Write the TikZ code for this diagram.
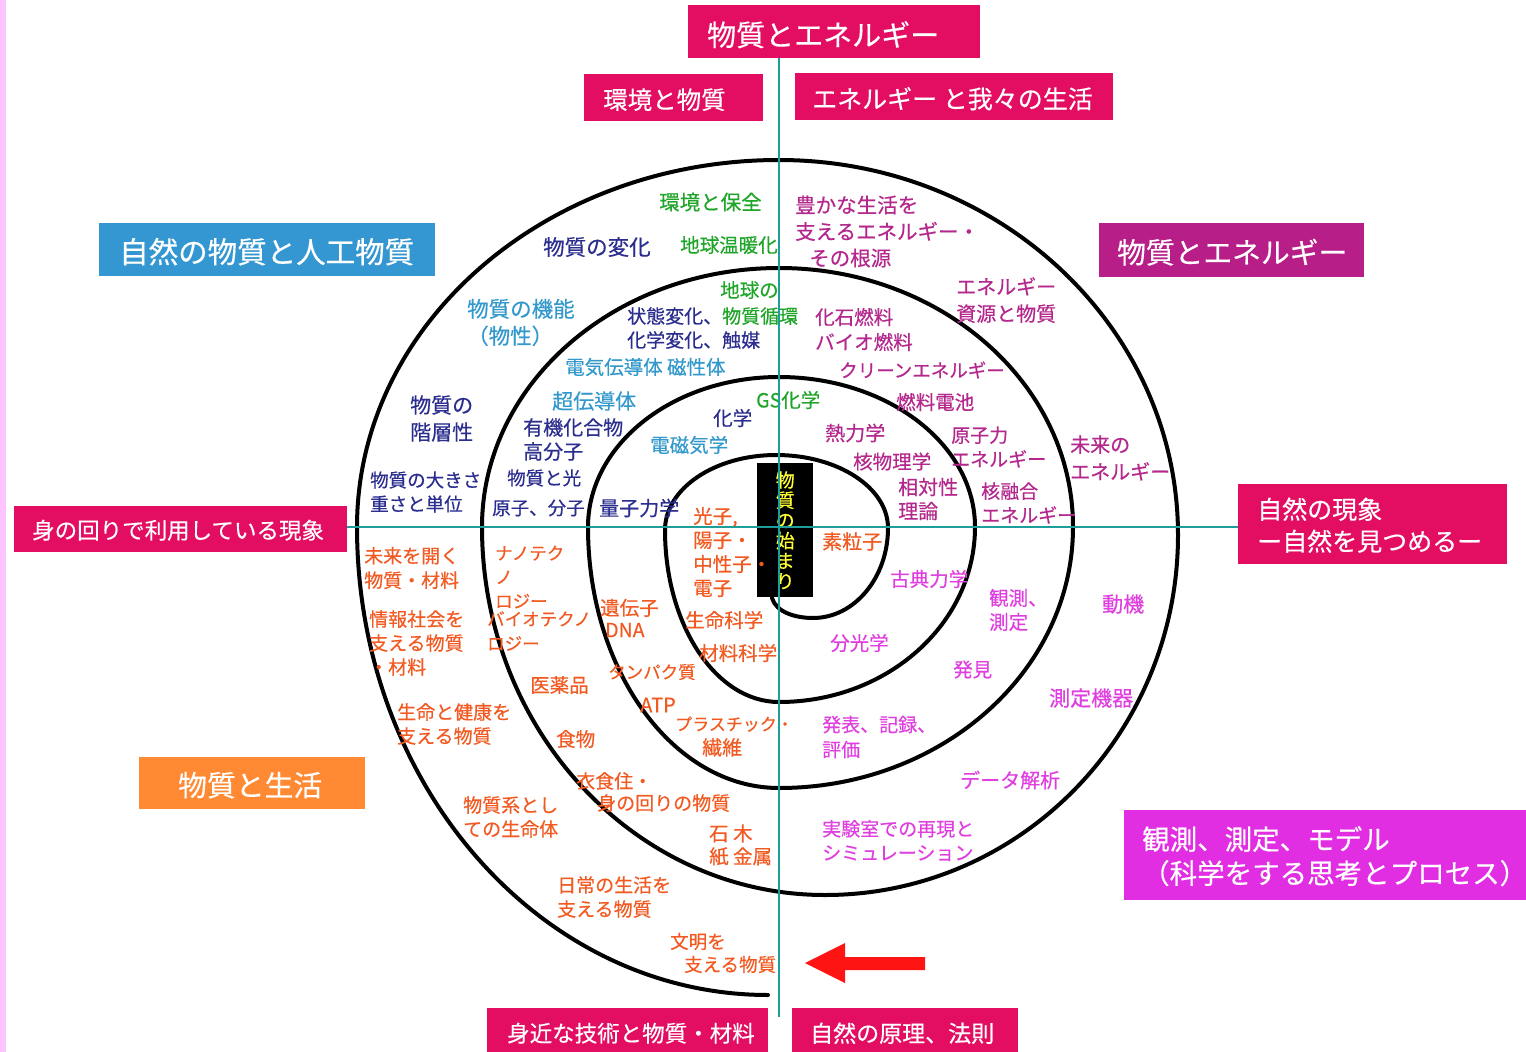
\documentclass[tikz,border=0pt]{standalone}
\usepackage{fontspec}
\setmainfont{Noto Sans CJK JP}[FakeBold=0.4]
\definecolor{boxred}{HTML}{E30D62}
\definecolor{boxblue}{HTML}{3497D1}
\definecolor{boxpurple}{HTML}{B81E87}
\definecolor{boxorange}{HTML}{FF8A33}
\definecolor{boxmag}{HTML}{E22EE2}
\definecolor{navyc}{HTML}{2B2E8F}
\definecolor{lbluec}{HTML}{3399CC}
\definecolor{greenc}{HTML}{1FA528}
\definecolor{purplec}{HTML}{B4278C}
\definecolor{orangec}{HTML}{F25A22}
\definecolor{magc}{HTML}{E03FE0}
\definecolor{tealc}{HTML}{1E9E9A}
\definecolor{stripc}{HTML}{FFC4FF}
\definecolor{arrowc}{HTML}{FF1414}
\definecolor{yel}{HTML}{FFFF33}
\begin{document}
\begin{tikzpicture}[x=1pt,y=-1pt,
  fs/.style 2 args={font=\fontsize{#1}{#2}\selectfont},
  bx/.style={rectangle, inner sep=0pt, draw=none, anchor=north west},
  bt/.style={inner sep=0pt, anchor=west, text=white, align=left},
  lb/.style={inner sep=0pt, anchor=west, align=left, fs={19.5}{24}},
  nv/.style={lb, text=navyc},
  lbc/.style={lb, text=lbluec},
  gc/.style={lb, text=greenc},
  pc/.style={lb, text=purplec},
  oc/.style={lb, text=orangec},
  mc/.style={lb, text=magc},
  axis/.style={tealc, line width=2pt},
  spiral/.style={line width=4pt, line cap=round, draw=black}
]
\useasboundingbox (0,0) rectangle (1526,1052);
\fill[white] (0,0) rectangle (1526,1052);
\fill[stripc] (0,0) rectangle (6,1052);

% spiral
\draw[spiral] (772,598) .. controls (776,612) and (795,618) .. (813,618)
 .. controls (854.4,618) and (888,577.7) .. (888,528)
 .. controls (888,487.7) and (837.9,455) .. (776,455)
 .. controls (714.7,455) and (665,488.6) .. (665,530)
 .. controls (665,625) and (716,702) .. (779,702)
 .. controls (887.3,702) and (975,623.7) .. (975,527)
 .. controls (975,444.2) and (887.3,377) .. (779,377)
 .. controls (673.5,377) and (588,444.2) .. (588,527)
 .. controls (588,671.2) and (673.5,788) .. (779,788)
 .. controls (941.4,788) and (1073,671.2) .. (1073,527)
 .. controls (1073,384) and (941.4,268) .. (779,268)
 .. controls (615,268) and (482,384) .. (482,527)
 .. controls (482,730.2) and (635.6,895) .. (825,895)
 .. controls (1020,895) and (1178,733.8) .. (1178,535)
 .. controls (1178,327.9) and (999.4,160) .. (779,160)
 .. controls (545.9,160) and (357,324.3) .. (357,527)
 .. controls (357,785.5) and (541,995) .. (768,995);

% boxes
\node[bx, fill=boxred, minimum width=292pt, minimum height=53pt] (b1) at (688,5) {};
\node[bt, fs={29}{34}] (b1t) at ([xshift=19pt,yshift=-3pt]b1.west) {物質とエネルギー};
\node[bx, fill=boxred, minimum width=179pt, minimum height=47pt] (b2) at (584,74) {};
\node[bt, fs={24.5}{30}] (b2t) at ([xshift=19pt,yshift=-2pt]b2.west) {環境と物質};
\node[bx, fill=boxred, minimum width=318pt, minimum height=47pt] (b3) at (795,73) {};
\node[bt, fs={25}{30}] (b3t) at ([xshift=17pt,yshift=-2pt]b3.west) {エネルギー と我々の生活};
\node[bx, fill=boxblue, minimum width=336pt, minimum height=53pt] (b4) at (99,223) {};
\node[bt, fs={29.5}{34}] (b4t) at ([xshift=20pt,yshift=-2pt]b4.west) {自然の物質と人工物質};
\node[bx, fill=boxpurple, minimum width=265pt, minimum height=54pt] (b5) at (1099,223) {};
\node[bt, fs={28.75}{34}] (b5t) at ([xshift=18pt,yshift=-2pt]b5.west) {物質とエネルギー};
\node[bx, fill=boxred, minimum width=333pt, minimum height=46pt] (b6) at (14,506) {};
\node[bt, fs={22.5}{28}] (b6t) at ([xshift=18pt,yshift=-1pt]b6.west) {身の回りで利用している現象};
\node[bx, fill=boxred, minimum width=269pt, minimum height=80pt] (b7) at (1238,484) {};
\node[bt, fs={25}{32}] (b7t) at ([xshift=19pt,yshift=-1pt]b7.west) {自然の現象\\ー自然を見つめるー};
\node[bx, fill=boxorange, minimum width=226pt, minimum height=52pt] (b8) at (139,757) {};
\node[bt, fs={28.8}{34}] (b8t) at ([xshift=39pt,yshift=-2pt]b8.west) {物質と生活};
\node[bx, fill=boxmag, minimum width=402pt, minimum height=90pt] (b9) at (1124,810) {};
\node[bt, fs={27.5}{34}] (b9t) at ([xshift=18pt,yshift=-1pt]b9.west) {観測、測定、モデル\\（科学をする思考とプロセス）};
\node[bx, fill=boxred, minimum width=281pt, minimum height=44pt] (b10) at (487,1008) {};
\node[bt, fs={22.5}{28}] (b10t) at ([xshift=20pt,yshift=-3pt]b10.west) {身近な技術と物質・材料};
\node[bx, fill=boxred, minimum width=226pt, minimum height=44pt] (b11) at (792,1008) {};
\node[bt, fs={23}{28}] (b11t) at ([xshift=18pt,yshift=-3pt]b11.west) {自然の原理、法則};

% navy labels
\node[nv, fs={21.5}{26}] (n1) at (543,247) {物質の変化};
\node[nv, fs={19}{24}] (n2) at (627,328) {状態変化、\textcolor{greenc}{物質循環}\\化学変化、触媒};
\node[nv, fs={21}{27}] (n3) at (410,418.5) {物質の\\階層性};
\node[nv, fs={20}{24}] (n4) at (523,439.5) {有機化合物\\高分子};
\node[nv] (n5) at (713,418) {化学};
\node[nv, fs={18.5}{24}] (n6) at (370,492) {物質の大きさ\\重さと単位};
\node[nv, fs={18.5}{24}] (n7) at (507,478) {物質と光};
\node[nv, fs={18.5}{24}] (n8) at (492,508) {原子、分子};
\node[nv, fs={20}{24}] (n9) at (599,508) {量子力学};

% light blue labels
\node[lbc, fs={21.5}{27}] (l1) at (467,322.5) {物質の機能\\（物性）};
\node[lbc] (l2) at (565,367) {電気伝導体 磁性体};
\node[lbc, fs={21}{24}] (l3) at (552,401) {超伝導体};
\node[lbc] (l4) at (650,445) {電磁気学};

% green labels
\node[gc, fs={20.5}{24}] (g1) at (659,202) {環境と保全};
\node[gc] (g2) at (680,245) {地球温暖化};
\node[gc] (g3) at (720,290) {地球の};
\node[gc] (g4) at (756,400) {GS化学};

% purple labels
\node[pc, fs={20.5}{26.5}] (p1) at (795,231.5) {豊かな生活を\\支えるエネルギー・\\\hspace*{14pt}その根源};
\node[pc, fs={20}{27}] (p2) at (956,300) {エネルギー\\資源と物質};
\node[pc, fs={19.5}{25}] (p3) at (815,329.5) {化石燃料\\バイオ燃料};
\node[pc, fs={18.5}{24}] (p4) at (839,370) {クリーンエネルギー};
\node[pc] (p5) at (896,402) {燃料電池};
\node[pc, fs={20}{24}] (p6) at (825,433) {熱力学};
\node[pc] (p7) at (853,461.5) {核物理学};
\node[pc, fs={20}{24}] (p8) at (898,499) {相対性\\理論};
\node[pc, fs={19}{24}] (p9) at (951,447) {原子力\\エネルギー};
\node[pc, fs={19}{24}] (p10) at (981,503) {核融合\\エネルギー};
\node[pc, fs={20}{27}] (p11) at (1070,458) {未来の\\エネルギー};

% orange labels
\node[oc, fs={20}{24}] (o1) at (822,541.5) {素粒子};
\node[oc, fs={19}{24.5}] (o2) at (364,568) {未来を開く\\物質・材料};
\node[oc, fs={17.5}{24}] (o3) at (495,577) {ナノテク\\ノ\\ロジー};
\node[oc, fs={17.5}{24.5}] (o4) at (487,631) {バイオテクノ\\ロジー};
\node[oc, fs={19}{24}] (o5) at (369,643) {情報社会を\\支える物質\\・材料};
\node[oc, fs={19.5}{22}] (o6) at (600,618) {遺伝子\\\hspace*{5pt}DNA};
\node[oc] (o7) at (685,620) {生命科学};
\node[oc] (o8) at (699,653) {材料科学};
\node[oc, fs={17.5}{24}] (o9) at (608,672) {タンパク質};
\node[oc] (o10) at (530,685) {医薬品};
\node[oc, fs={20}{24}] (o11) at (640,705) {ATP};
\node[oc, fs={19}{24}] (o12) at (397,724) {生命と健康を\\支える物質};
\node[oc, fs={17}{24.5}] (o13) at (675,736.5) {プラスチック・\\\hspace*{27pt}{\fontsize{20}{24.5}\selectfont 繊維}};
\node[oc] (o14) at (556,739) {食物};
\node[oc, fs={19}{22}] (o15) at (576,792) {衣食住・\\\hspace*{21pt}身の回りの物質};
\node[oc, fs={19}{24}] (o16) at (463,817) {物質系とし\\ての生命体};
\node[oc, fs={19.5}{23}] (o17) at (709,845) {石 木\\紙 金属};
\node[oc, fs={19}{24}] (o18) at (557,897) {日常の生活を\\支える物質};
\node[oc, fs={18.5}{23}] (o19) at (670,953) {文明を\\\hspace*{14pt}支える物質};

% magenta labels
\node[mc] (m1) at (890,579) {古典力学};
\node[mc, fs={19.5}{24}] (m2) at (989,610) {観測、\\測定};
\node[mc, fs={21}{24}] (m3) at (1102,604) {動機};
\node[mc] (m4) at (830,643) {分光学};
\node[mc] (m5) at (953,669.5) {発見};
\node[mc, fs={21}{24}] (m6) at (1049,698) {測定機器};
\node[mc, fs={19}{25}] (m7) at (822,737) {発表、記録、\\評価};
\node[mc, fs={20}{24}] (m8) at (960,780) {データ解析};
\node[mc, fs={19}{24}] (m9) at (822,840.5) {実験室での再現と\\シミュレーション};

% centre box
\node[bx, fill=black, minimum width=56pt, minimum height=134pt, text=yel, align=center, fs={19}{20.2}] (origin) at (757,463) {物\\質\\の\\始\\ま\\り};
\node[oc, fs={19.5}{24}] (o0) at (693,552) {光子,\\陽子・\\中性子・\\電子};

% red arrow
\fill[arrowc] (805,963) -- (845,943) -- (845,957) -- (925,957) -- (925,970) -- (845,970) -- (845,983) -- cycle;

% axes
\coordinate (vtop) at (779,58);
\coordinate (vbot) at (779,1017);
\coordinate (hl) at (347,527);
\coordinate (hr) at (1238,527);
\draw[axis] (vtop) -- (vbot);
\draw[axis] (hl) -- (hr);
\end{tikzpicture}
\end{document}
